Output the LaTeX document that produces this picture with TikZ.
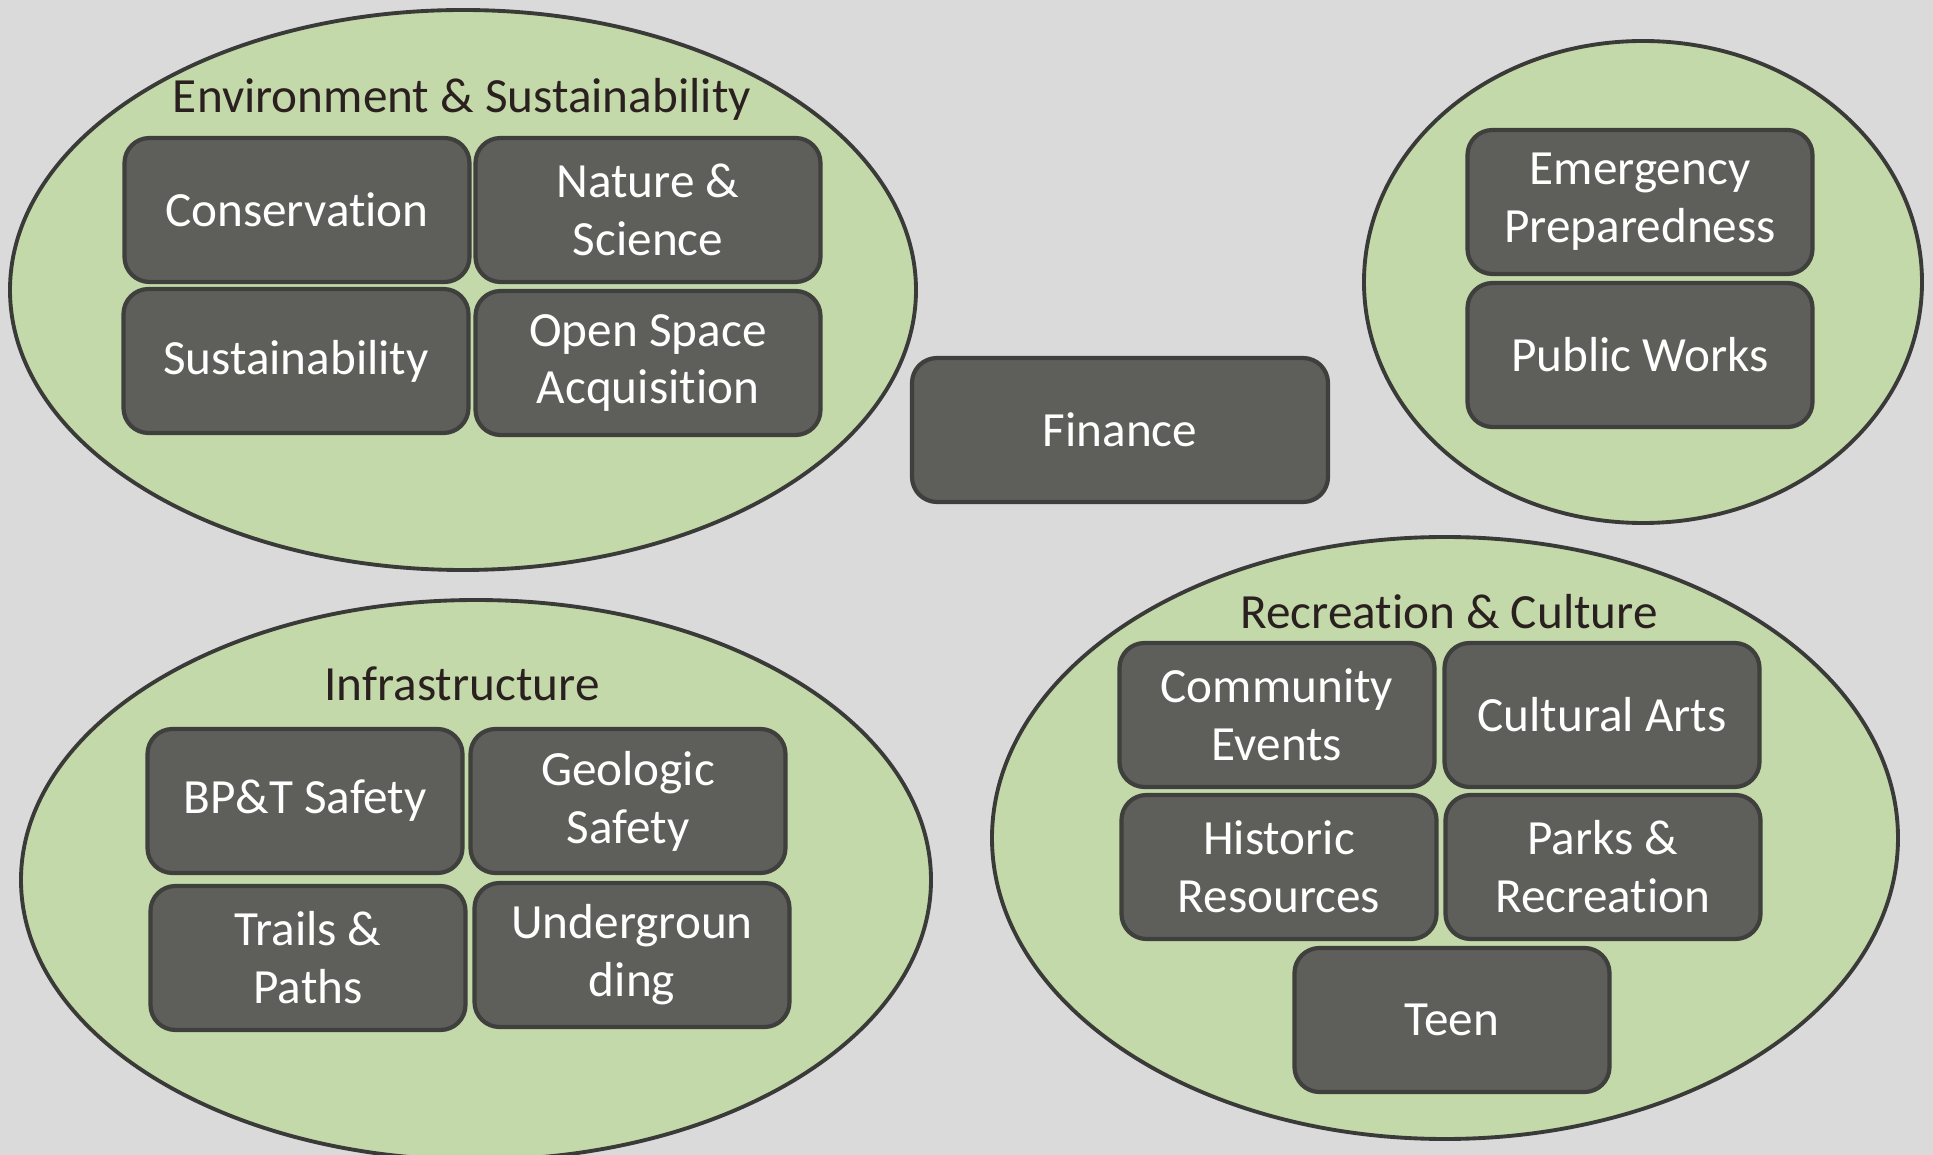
\documentclass[tikz,border=0pt]{standalone}
\usepackage{fontspec}
\setmainfont[Ligatures={NoCommon}]{Carlito}
\usetikzlibrary{shapes.geometric}
\definecolor{canvas}{HTML}{DADADA}
\definecolor{grpfill}{HTML}{C3D9A9}
\definecolor{grpline}{HTML}{3A3A38}
\definecolor{boxfill}{HTML}{5E5E5A}
\definecolor{boxline}{HTML}{3F3F3D}
\definecolor{titletext}{HTML}{2B2020}
\tikzset{
  grp/.style={draw=grpline,fill=grpfill,ellipse,line width=1.1pt,inner sep=0pt},
  grptitle/.style={text=titletext,font=\fontsize{14}{17}\selectfont},
  box/.style={draw=boxline,fill=boxfill,line width=1.2pt,rounded corners=0.25cm,
    text=white,align=center,minimum height=1.44cm,inner sep=2pt,
    font=\fontsize{14}{16.5}\selectfont},
  wbox/.style={box,minimum width=3.45cm},
  nbox/.style={box,minimum width=3.15cm}
}
\begin{document}
\begin{tikzpicture}
    \fill[canvas] (0,0) rectangle (19.33,-11.55);
    \useasboundingbox (0,0) rectangle (19.33,-11.55);
    \clip (0,0) rectangle (19.33,-11.55);

    % Environment & Sustainability
    \node[grp,minimum width=9.06cm,minimum height=5.6cm] (env) at (4.63,-2.90){};
    \node[grptitle] (envt) at (4.62,-0.99){Environment \& Sustainability};
    \node[wbox] (cons) at (2.97,-2.10){Conservation};
    \node[wbox] (nat) at (6.48,-2.10){Nature \&\\Science};
    \node[wbox] (sust) at (2.96,-3.61){Sustainability};
    \node[wbox] (osa) at (6.48,-3.63){Open Space\\Acquisition};

    % Finance
    \node[box,minimum width=4.16cm] (fin) at (11.20,-4.30){Finance};

    % Emergency / Public Works
    \node[grp,minimum width=5.58cm,minimum height=4.82cm] (pub) at (16.43,-2.82){};
    \node[wbox] (emer) at (16.40,-2.02){Emergency\\Preparedness};
    \node[wbox] (pw) at (16.40,-3.55){Public Works};

    % Infrastructure
    \node[grp,minimum width=9.10cm,minimum height=5.6cm] (inf) at (4.76,-8.80){};
    \node[grptitle] (inft) at (4.62,-6.84){Infrastructure};
    \node[nbox] (bpt) at (3.05,-8.01){BP\&T Safety};
    \node[nbox] (geo) at (6.28,-8.01){Geologic\\Safety};
    \node[nbox] (trl) at (3.08,-9.58){Trails \&\\Paths};
    \node[nbox] (und) at (6.32,-9.55){Undergroun\\ding};

    % Recreation & Culture
    \node[grp,minimum width=9.06cm,minimum height=6.02cm] (rec) at (14.45,-8.38){};
    \node[grptitle] (rect) at (14.49,-6.12){Recreation \& Culture};
    \node[nbox] (com) at (12.77,-7.15){Community\\Events};
    \node[nbox] (art) at (16.02,-7.15){Cultural Arts};
    \node[nbox] (his) at (12.79,-8.67){Historic\\Resources};
    \node[nbox] (prk) at (16.03,-8.67){Parks \&\\Recreation};
    \node[nbox] (teen) at (14.52,-10.20){Teen};
\end{tikzpicture}
\end{document}
